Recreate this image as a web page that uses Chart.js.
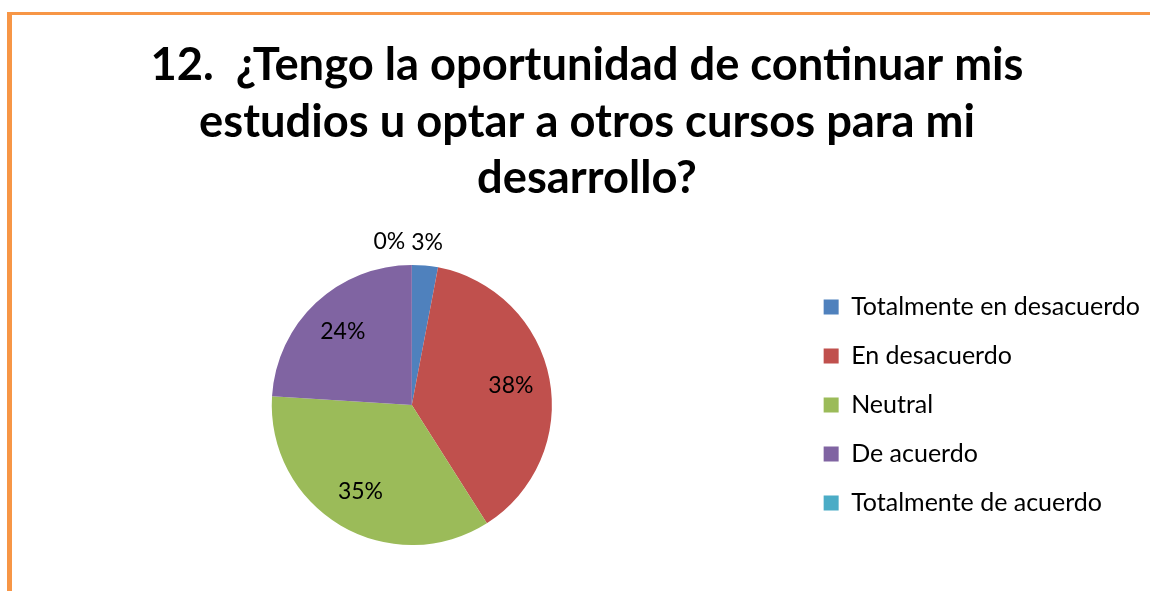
<!DOCTYPE html>
<html>
<head>
<meta charset="utf-8">
<script src="https://cdn.jsdelivr.net/npm/chart.js@4/dist/chart.umd.min.js"></script>
<style>
    html, body { margin: 0; padding: 0; background: #fff; }
    body { width: 1150px; height: 591px; overflow: hidden; position: relative; }
    .frame {
        position: absolute; left: 7px; top: 12px; right: 0; bottom: 0;
        border-left: 5px solid #F79646; border-top: 3px solid #F79646;
    }
    .chart-box { position: absolute; left: 24px; top: 15px; width: 1126px; height: 576px; }
</style>
</head>
<body>
<div class="frame"></div>
<div class="chart-box"><canvas id="pieChart"></canvas></div>
<script>
// Data
const titleLines = ['12.  ¿Tengo la oportunidad de continuar mis', 'estudios u optar a otros cursos para mi', 'desarrollo?'];
const categories = ['Totalmente en desacuerdo', 'En desacuerdo', 'Neutral', 'De acuerdo', 'Totalmente de acuerdo'];
const percentages = [3, 38, 35, 24, 0];
const sliceColors = ['#4F81BD', '#C0504D', '#9BBB59', '#8064A2', '#4BACC6'];

const FONT = 'Lato, "Open Sans", sans-serif';

// Percentage labels: inside for big slices, outside for tiny ones
const pieLabels = {
    id: 'pieLabels',
    afterDatasetsDraw(chart) {
        const ctx = chart.ctx;
        const arcs = chart.getDatasetMeta(0).data;
        ctx.save();
        ctx.font = '23px ' + FONT;
        ctx.fillStyle = '#000';
        ctx.textBaseline = 'middle';
        let prevOutside = null;
        arcs.forEach((arc, i) => {
            const mid = (arc.startAngle + arc.endAngle) / 2;
            const text = percentages[i] + '%';
            const w = ctx.measureText(text).width;
            if (percentages[i] >= 5) {
                const r = arc.outerRadius * 0.72;
                ctx.textAlign = 'center';
                ctx.fillText(text, arc.x + Math.cos(mid) * r, arc.y + Math.sin(mid) * r);
            } else {
                const r = arc.outerRadius + 23;
                let x = arc.x + Math.cos(mid) * r;
                const y = arc.y + Math.sin(mid) * r;
                // push away from a neighbouring small label
                if (prevOutside && Math.abs(prevOutside.y - y) < 20 && x + w / 2 > prevOutside.left - 6) {
                    x = prevOutside.left - 6 - w / 2;
                }
                ctx.textAlign = 'center';
                ctx.fillText(text, x, y);
                prevOutside = { left: x - w / 2, y: y };
            }
        });
        ctx.restore();
    }
};

const ctx = document.getElementById('pieChart').getContext('2d');
new Chart(ctx, {
    type: 'pie',
    data: {
        labels: categories,
        datasets: [{
            data: percentages,
            backgroundColor: sliceColors,
            borderWidth: 0
        }]
    },
    options: {
        responsive: true,
        maintainAspectRatio: false,
        animation: false,
        layout: { padding: { left: 0, right: 0, top: 0, bottom: 46 } },
        plugins: {
            title: {
                display: true,
                text: titleLines,
                color: '#000',
                font: { family: FONT, size: 45.3, weight: 'bold', lineHeight: 1.25 },
                padding: { top: 22, bottom: 58 }
            },
            legend: {
                position: 'right',
                fullSize: false,
                labels: {
                    color: '#000',
                    font: { family: FONT, size: 25 },
                    boxWidth: 15,
                    boxHeight: 15,
                    padding: 24
                }
            },
            tooltip: { enabled: false }
        }
    },
    plugins: [pieLabels]
});
</script>
</body>
</html>
